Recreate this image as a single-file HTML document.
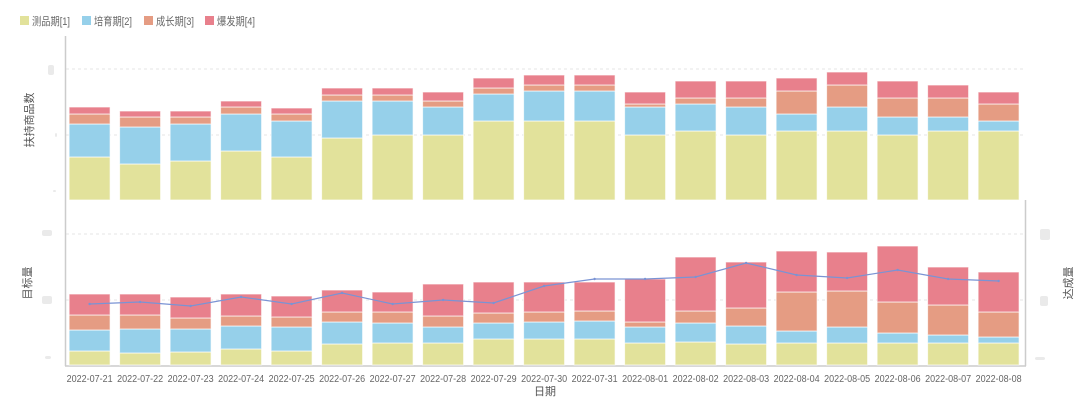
<!DOCTYPE html>
<html><head><meta charset="utf-8"><style>
body{margin:0;background:#fff;width:1080px;height:402px;overflow:hidden;font-family:"Liberation Sans","Noto Sans CJK SC",sans-serif;}
</style></head><body>
<svg id="s" width="1080" height="402" xmlns="http://www.w3.org/2000/svg" font-family="Liberation Sans, Noto Sans CJK SC, sans-serif"></svg>
<script>
const s=document.getElementById('s');let h='';
const C=['#e2e29b','#96d0ea','#e59c83','#e8808c'];
const L=['测品期[1]','培育期[2]','成长期[3]','爆发期[4]'];const LX=[20,82,144,205];
L.forEach((t,i)=>{h+=`<rect x="${LX[i]}" y="16" width="9" height="9" fill="${C[i]}"/><text x="${LX[i]+12}" y="25" font-size="11" fill="#666" textLength="38" lengthAdjust="spacingAndGlyphs">${t}</text>`;});
[69,135].forEach(y=>h+=`<line x1="66" x2="1024" y1="${y}" y2="${y}" stroke="#e6e6e6" stroke-dasharray="3,3"/>`);
[234,300].forEach(y=>h+=`<line x1="66" x2="1024" y1="${y}" y2="${y}" stroke="#e6e6e6" stroke-dasharray="3,3"/>`);
h+=`<line x1="65.5" x2="65.5" y1="36" y2="366" stroke="#ccc" stroke-width="1.5"/>`;
h+=`<line x1="1025.5" x2="1025.5" y1="200" y2="366" stroke="#ccc" stroke-width="1.5"/>`;
h+=`<line x1="65" x2="1026" y1="366" y2="366" stroke="#ccc" stroke-width="1.5"/>`;
const T=[[157,124,114,107],[164,127,117,111],[161,124,117,111],[151,114,107,101],[157,121,114,108],[138,101,95,88],[135,101,95,88],[135,107,101,92],[121,94,88,78],[121,91,85,75],[121,91,85,75],[135,107,104,92],[131,104,98,81],[135,107,98,81],[131,114,91,78],[131,107,85,72],[135,117,98,81],[131,117,98,85],[131,121,104,92]];
const B=[[351,330,315,294],[353,329,315,294],[352,329,318,297],[349,326,316,294],[351,327,317,296],[344,322,312,290],[343,323,312,292],[343,327,316,284],[339,323,313,282],[339,322,312,282],[339,321,311,282],[343,327,322,279],[342,323,311,257],[344,326,308,262],[343,331,292,251],[343,327,291,252],[343,333,302,246],[343,335,305,267],[343,337,312,272]];
const LN=[304,302,306,297,304,293,304,300,303,286,279,279,277,263,275,278,270,279,281];
const D=['07-21','07-22','07-23','07-24','07-25','07-26','07-27','07-28','07-29','07-30','07-31','08-01','08-02','08-03','08-04','08-05','08-06','08-07','08-08'];
function stack(x,bot,v){let prev=bot;for(let k=0;k<4;k++){h+=`<rect x="${x}" y="${v[k]}" width="41" height="${prev-v[k]}" fill="${C[k]}" stroke="#fff" stroke-opacity="0.7" stroke-width="1"/>`;prev=v[k];}}
let pts=[];
for(let i=0;i<19;i++){const cx=89.6+i*50.5,x=cx-20.5;stack(x,200,T[i]);stack(x,365,B[i]);pts.push(cx+','+LN[i]);
h+=`<text x="${cx-23}" y="382" font-size="10" fill="#666" textLength="46" lengthAdjust="spacingAndGlyphs">2022-${D[i]}</text>`;}
h+=`<polyline points="${pts.join(' ')}" fill="none" stroke="#7a93d4" stroke-width="1.2"/>`;
pts.forEach(p=>{const [a,b]=p.split(',');h+=`<circle cx="${a}" cy="${b}" r="1.2" fill="#7a93d4"/>`;});
h+=`<text transform="translate(33,120) rotate(-90)" font-size="11" fill="#555" text-anchor="middle">扶持商品数</text>`;
h+=`<text transform="translate(31,283) rotate(-90)" font-size="11" fill="#555" text-anchor="middle">目标量</text>`;
h+=`<text transform="translate(1072,283) rotate(-90)" font-size="11" fill="#555" text-anchor="middle">达成量</text>`;
h+=`<text x="545" y="395" font-size="11" fill="#555" text-anchor="middle">日期</text>`;
[[48,65,6,10],[55,133,2,4],[53,190,3,2],[42,230,10,6],[42,296,10,8],[45,356,6,3],[1040,229,10,11],[1040,296,8,10],[1035,357,10,3]].forEach(r=>h+=`<rect x="${r[0]}" y="${r[1]}" width="${r[2]}" height="${r[3]}" rx="2" fill="#eaeaea"/>`);
s.innerHTML=h;
</script>
</body></html>
